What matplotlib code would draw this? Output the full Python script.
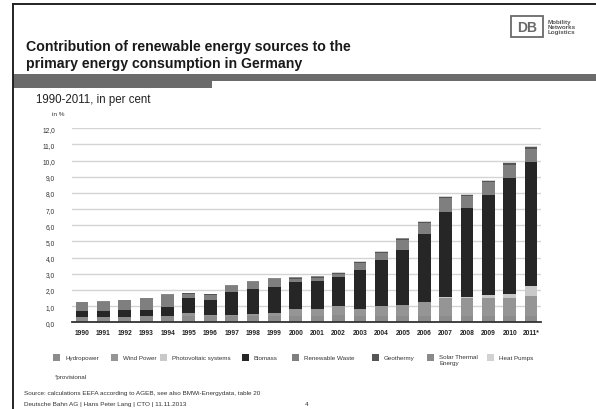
import matplotlib
matplotlib.use("Agg")
import matplotlib.pyplot as plt
from matplotlib.patches import Rectangle
from matplotlib.lines import Line2D
import numpy as np

plt.rcParams['font.family'] = ['Liberation Sans', 'DejaVu Sans']

years = ["1990", "1991", "1992", "1993", "1994", "1995", "1996", "1997", "1998",
         "1999", "2000", "2001", "2002", "2003", "2004", "2005", "2006", "2007",
         "2008", "2009", "2010", "2011*"]

# shares of primary energy consumption, in %
hydropower = [0.31, 0.31, 0.35, 0.37, 0.40, 0.42, 0.38, 0.40, 0.40, 0.42, 0.42,
              0.42, 0.45, 0.38, 0.42, 0.40, 0.40, 0.42, 0.42, 0.40, 0.42, 0.40]
wind_power = [0.00, 0.00, 0.00, 0.00, 0.01, 0.14, 0.07, 0.05, 0.12, 0.18, 0.38,
              0.40, 0.54, 0.44, 0.56, 0.67, 0.83, 1.11, 1.09, 1.12, 1.08, 1.25]
photovoltaic = [0.00, 0.00, 0.00, 0.00, 0.00, 0.00, 0.00, 0.00, 0.00, 0.00, 0.00,
                0.00, 0.00, 0.00, 0.01, 0.03, 0.05, 0.06, 0.08, 0.17, 0.25, 0.62]
biomass = [0.41, 0.40, 0.42, 0.42, 0.55, 0.92, 0.95, 1.41, 1.53, 1.60, 1.70,
           1.75, 1.79, 2.44, 2.88, 3.39, 4.16, 5.26, 5.46, 6.21, 7.16, 7.63]
renewable_waste = [0.52, 0.56, 0.59, 0.71, 0.73, 0.29, 0.31, 0.38, 0.43, 0.45, 0.20,
                   0.18, 0.18, 0.40, 0.41, 0.62, 0.70, 0.82, 0.75, 0.75, 0.83, 0.83]
geothermy = [0.01, 0.01, 0.01, 0.01, 0.02, 0.02, 0.02, 0.02, 0.03, 0.03, 0.06,
             0.07, 0.07, 0.06, 0.06, 0.06, 0.06, 0.07, 0.07, 0.08, 0.09, 0.09]
solar_thermal = [0.01, 0.01, 0.01, 0.01, 0.01, 0.01, 0.02, 0.02, 0.02, 0.03, 0.04,
                 0.05, 0.04, 0.03, 0.03, 0.03, 0.03, 0.03, 0.03, 0.04, 0.04, 0.04]
heat_pumps = [0.00, 0.00, 0.01, 0.01, 0.01, 0.01, 0.01, 0.01, 0.01, 0.01, 0.02,
              0.02, 0.02, 0.02, 0.02, 0.02, 0.02, 0.02, 0.02, 0.03, 0.03, 0.03]

series_names = ["Hydropower", "Wind Power", "Photovoltaic systems", "Biomass",
                "Renewable Waste", "Geothermy", "Solar Thermal\nEnergy", "Heat Pumps"]
series_values = [hydropower, wind_power, photovoltaic, biomass,
                 renewable_waste, geothermy, solar_thermal, heat_pumps]
series_colors = ["#8c8c8c", "#959595", "#c9c9c9", "#262626",
                 "#7f7f7f", "#555555", "#8a8a8a", "#d2d2d2"]

y_ticks = [0, 1, 2, 3, 4, 5, 6, 7, 8, 9, 10, 11, 12]
y_tick_labels = ["0,0", "1,0", "2,0", "3,0", "4,0", "5,0", "6,0", "7,0", "8,0",
                 "9,0", "10,0", "11,0", "12,0"]

W, H = 596, 410
fig = plt.figure(figsize=(W / 100, H / 100), dpi=100)
fig.patch.set_facecolor("white")


def fx(x):
    return x / W


def fy(y):
    return 1 - y / H


# slide frame
fig.add_artist(Line2D([fx(13), fx(13)], [fy(5), fy(412)], color="#222222", lw=1.4))
fig.add_artist(Line2D([fx(13), fx(598)], [fy(5), fy(5)], color="#222222", lw=1.4))

# header band with tab
fig.add_artist(Rectangle((fx(13), fy(82)), fx(596) - fx(13), fy(75) - fy(82),
                         transform=fig.transFigure, color="#6b6b6b", lw=0))
fig.add_artist(Rectangle((fx(13), fy(89)), fx(212) - fx(13), fy(75) - fy(89),
                         transform=fig.transFigure, color="#6b6b6b", lw=0))

# title
fig.text(fx(26), fy(46.5), "Contribution of renewable energy sources to the",
         fontsize=10.2, fontweight="bold", color="#1a1a1a", va="center", ha="left")
fig.text(fx(26), fy(64), "primary energy consumption in Germany",
         fontsize=10.2, fontweight="bold", color="#1a1a1a", va="center", ha="left")

# logo
fig.add_artist(Rectangle((fx(511), fy(38)), fx(543) - fx(511), fy(17) - fy(38),
                         transform=fig.transFigure, facecolor="white",
                         edgecolor="#6a6a6a", lw=1.3))
fig.text(fx(527), fy(27.5), "DB", fontsize=10, fontweight="bold", color="#6a6a6a",
         ha="center", va="center")
fig.text(fx(548), fy(27.5), "Mobility\nNetworks\nLogistics", fontsize=4.5,
         fontweight="bold", color="#555555", ha="left", va="center", linespacing=1.05)

# subtitle
fig.text(fx(36), fy(100), "1990-2011, in per cent", fontsize=8.3, color="#222222",
         ha="left", va="center")

# chart
ax = fig.add_axes([fx(71.7), fy(323.3), fx(540.7) - fx(71.7), fy(129.3) - fy(323.3)])
x = np.arange(len(years))
bottom = np.zeros(len(years))
for name, vals, col in zip(series_names, series_values, series_colors):
    v = np.array(vals)
    ax.bar(x, v, width=0.6, bottom=bottom, color=col, label=name, zorder=3, lw=0)
    bottom += v

ax.set_xlim(-0.48, len(years) - 0.55)
ax.set_ylim(0, 12)
ax.set_yticks(y_ticks)
ax.set_yticklabels(y_tick_labels)
ax.set_xticks(x)
ax.set_xticklabels(years)
ax.tick_params(axis="y", length=0, pad=12, labelsize=4.8, labelcolor="#333333")
ax.tick_params(axis="x", length=0, pad=5, labelsize=4.8, labelcolor="#222222")
for lbl in ax.get_xticklabels():
    lbl.set_fontweight("bold")
ax.grid(axis="y", color="#d4d4d4", lw=1.0, zorder=0)
ax.set_axisbelow(True)
for s in ["top", "right", "left"]:
    ax.spines[s].set_visible(False)
ax.spines["bottom"].set_color("#333333")
ax.spines["bottom"].set_linewidth(1.3)
ax.spines["bottom"].set_zorder(5)

fig.text(fx(52), fy(115), "in %", fontsize=4.6, color="#333333", ha="left", va="center")

# legend, laid out as a single footer row
legend_x = [53, 111, 160, 242, 292, 372, 427, 487]
for xpos, name, col in zip(legend_x, series_names, series_colors):
    fig.add_artist(Rectangle((fx(xpos), fy(361.5)), fx(6.5) - fx(0), fy(355) - fy(361.5),
                             transform=fig.transFigure, color=col, lw=0))
    multi = "\n" in name
    fig.text(fx(xpos + 12), fy(355.3) if multi else fy(358.2), name, fontsize=4.5,
             color="#333333", ha="left", va="top" if multi else "center")

fig.text(fx(55), fy(378), "*provisional", fontsize=4.5, color="#333333", ha="left", va="center")
fig.text(fx(24), fy(394), "Source: calculations EEFA according to AGEB, see also BMWi-Energydata, table 20",
         fontsize=4.6, color="#333333", ha="left", va="center")
fig.text(fx(24), fy(405), "Deutsche Bahn AG | Hans Peter Lang | CTO | 11.11.2013",
         fontsize=4.6, color="#333333", ha="left", va="center")
fig.text(fx(305), fy(405), "4", fontsize=4.6, color="#333333", ha="left", va="center")

fig.savefig("out.png", dpi=100, facecolor="white")
